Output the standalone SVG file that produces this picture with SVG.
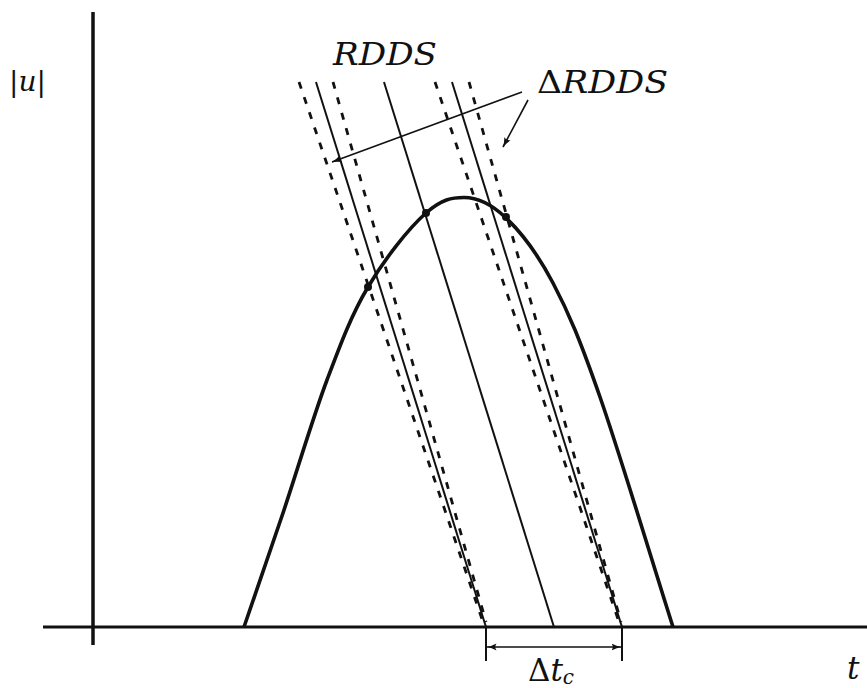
<svg xmlns="http://www.w3.org/2000/svg" width="867" height="688" viewBox="0 0 867 688">
<style>
.axis{stroke:#111;stroke-width:3.5;fill:none;stroke-linecap:butt}
.solid{stroke:#111;stroke-width:2;fill:none}
.dash{stroke:#111;stroke-width:2.8;fill:none;stroke-dasharray:7 9}
.curve{stroke:#111;stroke-width:3.6;fill:none;stroke-linejoin:round}
.thin{stroke:#111;stroke-width:1.6;fill:none}
text{font-family:'DejaVu Serif','Liberation Serif',serif;font-size:31px;fill:#111;font-weight:normal}
.it{font-style:italic}
.up{font-style:normal}
.dot{fill:#111}
</style>
<defs>
<marker id="arr" viewBox="0 0 10 8" refX="9.5" refY="4" markerWidth="10" markerHeight="8" markerUnits="userSpaceOnUse" orient="auto-start-reverse">
<path d="M0,0.5 Q5,3.2 10,4 Q5,4.8 0,7.5 Q2.5,4 0,0.5 z" fill="#111"/>
</marker>
</defs>
<rect width="867" height="688" fill="#fff"/>
<g id="axes">
<line class="axis" x1="93" y1="12" x2="93" y2="645"/>
<line class="axis" x1="43" y1="627" x2="867" y2="627" style="stroke-width:3"/>
</g>
<g id="labels">
<text x="9" y="91" style="font-size:28px"><tspan class="up">|</tspan><tspan class="it">u</tspan><tspan class="up">|</tspan></text>
<text class="it" x="847" y="679">t</text>
<text class="it" x="333" y="65" textLength="104" lengthAdjust="spacingAndGlyphs">RDDS</text>
<text x="537" y="93" textLength="131" lengthAdjust="spacingAndGlyphs"><tspan class="up">Δ</tspan><tspan class="it">RDDS</tspan></text>
<text x="528" y="681"><tspan class="up">Δ</tspan><tspan class="it">t</tspan><tspan class="it" font-size="20" dy="3">c</tspan></text>
</g>
<g id="connectors">
<g id="rdds-lines">
<line class="solid" x1="316" y1="82" x2="486" y2="627"/>
<line class="solid" x1="384" y1="82" x2="554" y2="627"/>
<line class="solid" x1="452" y1="82" x2="622" y2="627"/>
</g>
<g id="delta-rdds-lines">
<line class="dash" x1="299" y1="82" x2="483" y2="622"/>
<line class="dash" x1="333" y1="82" x2="486" y2="622"/>
<line class="dash" x1="435" y1="82" x2="619" y2="622"/>
<line class="dash" x1="469" y1="82" x2="621" y2="622"/>
</g>
<g id="leaders">
<line class="thin" x1="522" y1="92" x2="332" y2="162" marker-end="url(#arr)"/>
<line class="thin" x1="528" y1="100" x2="503" y2="147" marker-end="url(#arr)"/>
</g>
<g id="dimension">
<line class="solid" x1="486" y1="627" x2="486" y2="661"/>
<line class="solid" x1="622" y1="627" x2="622" y2="661"/>
<line class="thin" x1="487" y1="647" x2="621" y2="647" marker-start="url(#arr)" marker-end="url(#arr)"/>
</g>
</g>
<g id="pulse">
<path class="curve" d="M244,627 C257,589 269.17,554.17 283,513 C296.83,471.83 312.83,417.67 327,380 C341.17,342.33 351.5,314.83 368,287 C384.5,259.17 408,229 426,213 C442,199 452,197.5 464,197.5 C477,197.5 490,203 505,217 C520,231 537.17,253 553,283 C568.83,313 580,339.67 600,397 C620,454.33 648.67,550.33 673,627"/>
<circle class="dot" cx="368" cy="287" r="4"/>
<circle class="dot" cx="426" cy="213" r="4"/>
<circle class="dot" cx="506" cy="217" r="4"/>
</g>
</svg>
